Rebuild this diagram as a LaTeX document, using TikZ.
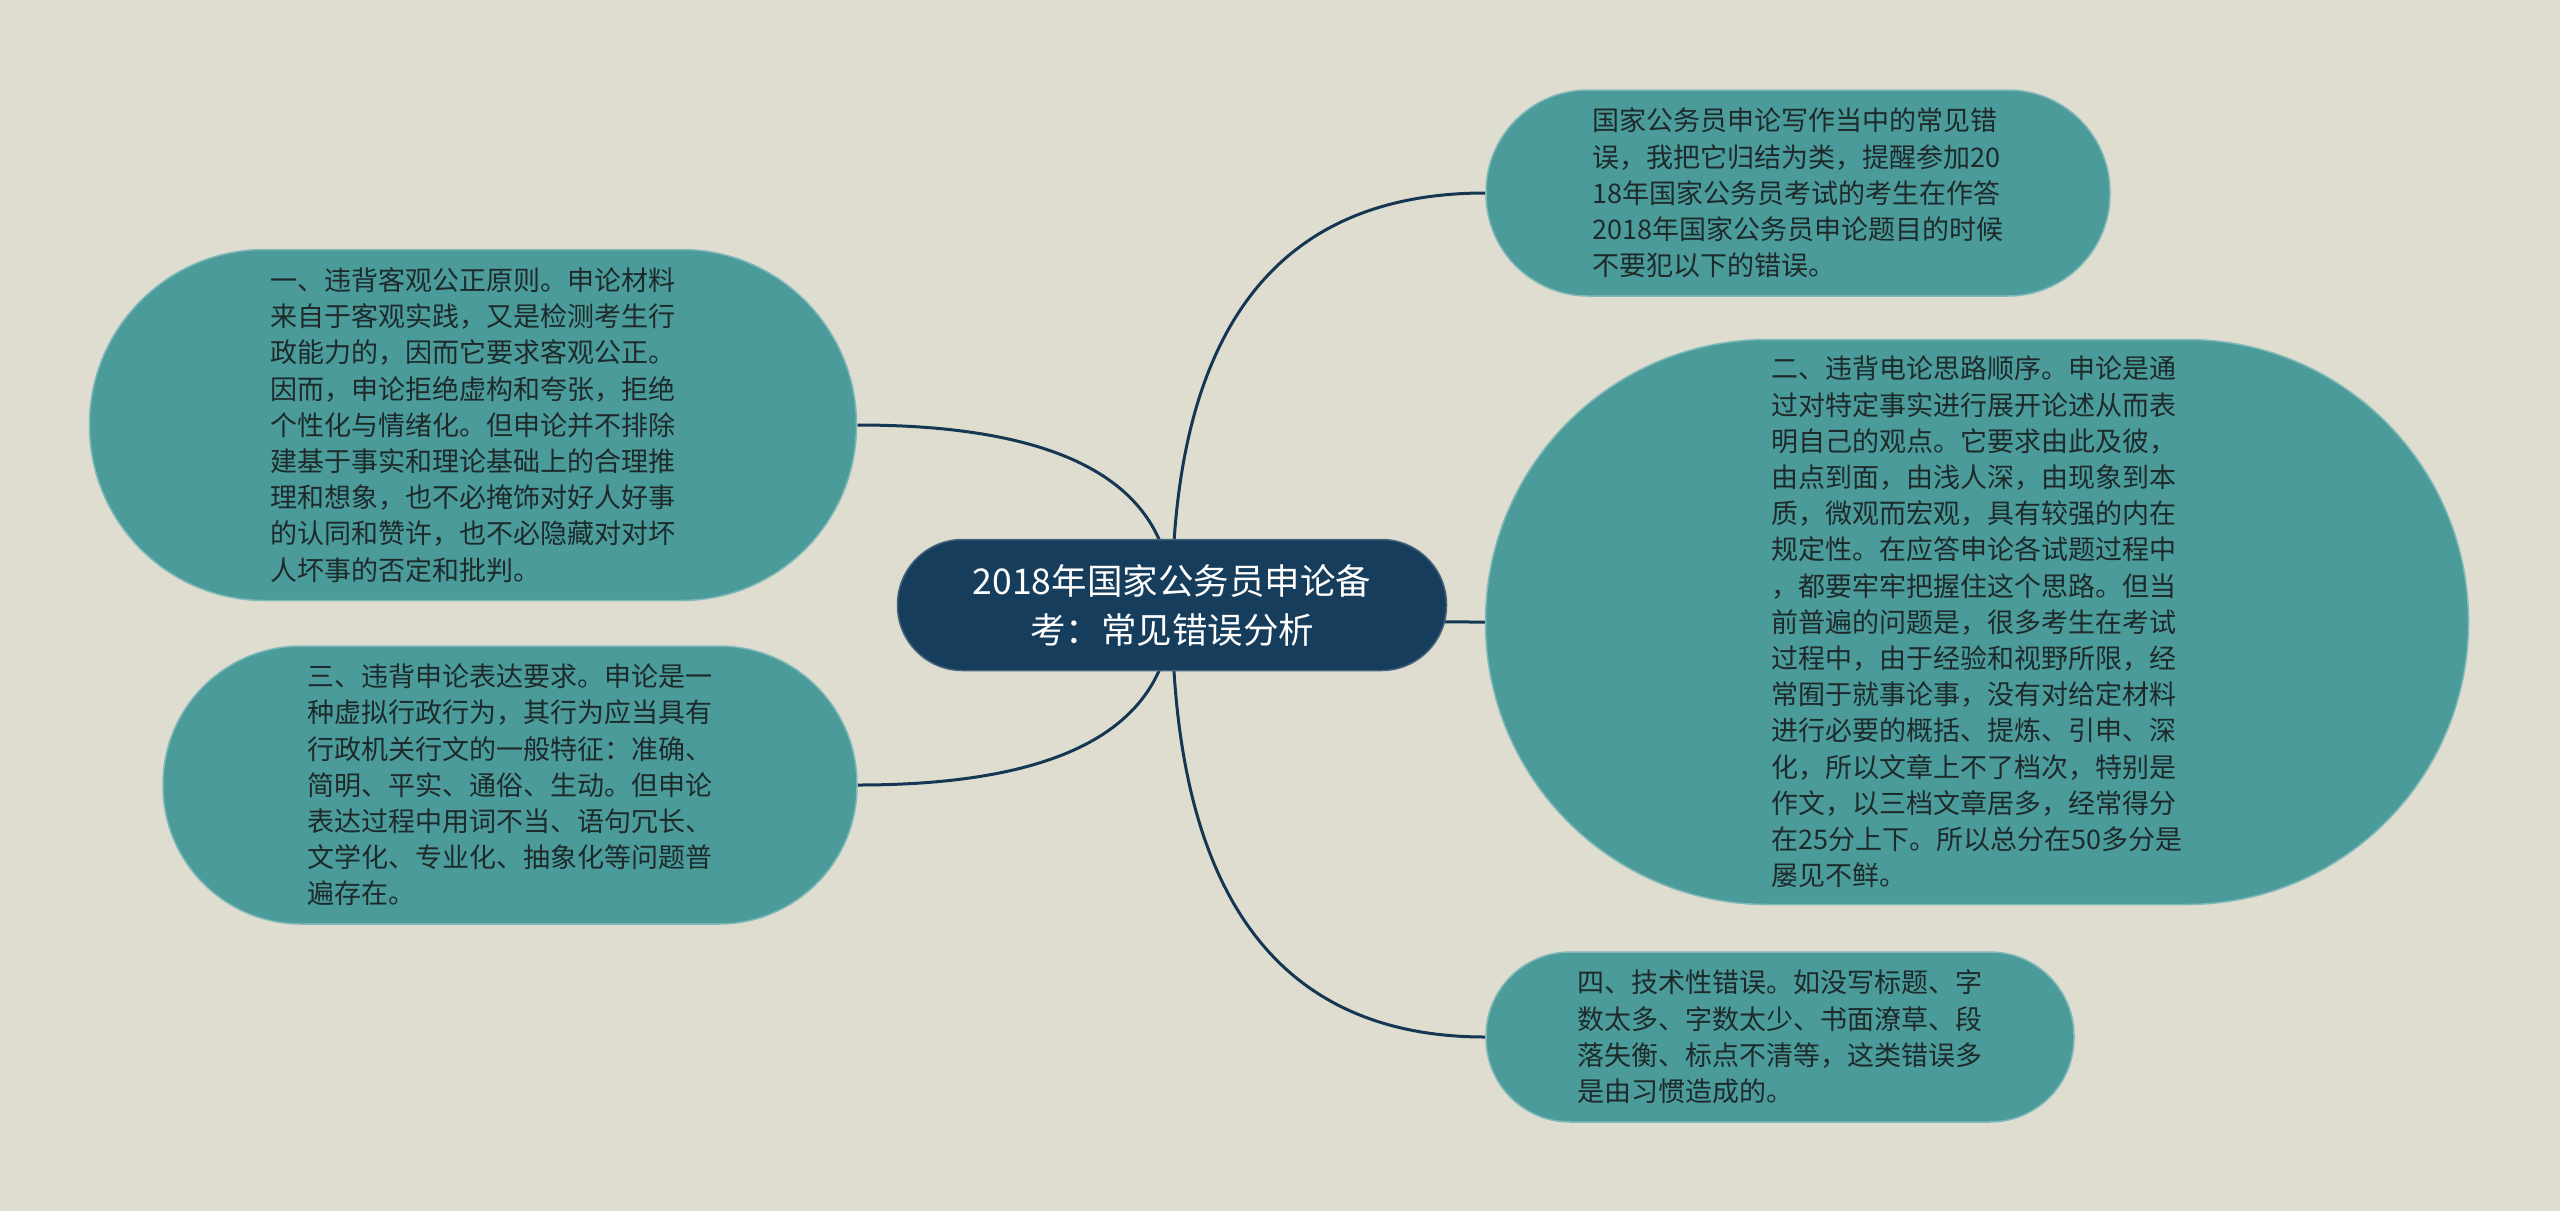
\documentclass[tikz,border=0pt]{standalone}
\usepackage{fontspec}
\usepackage{tikz}
\usetikzlibrary{calc}
\usepackage{color}
\newfontfamily\cjk{Noto Sans CJK SC}

\definecolor{paper}{RGB}{223,221,207}
\definecolor{leafteal}{RGB}{75,155,155}
\definecolor{rootblue}{RGB}{23,61,92}
\definecolor{inkdark}{RGB}{30,42,42}

\pgfdeclarelayer{bg}
\pgfsetlayers{bg,main}

\begin{document}
\begin{tikzpicture}
[x=1pt,y=-1pt,
 leaf/.style={draw=leafteal!70!white,line width=1.5pt,fill=leafteal,text=inkdark,
   align=left,inner sep=0pt,font=\cjk\fontsize{27}{36.2}\selectfont},
 root/.style={draw=rootblue!80!white,line width=1.5pt,fill=rootblue,text=white,
   align=center,inner sep=0pt,font=\cjk\fontsize{35.5}{49}\selectfont},
 link/.style={draw=rootblue!90!black,line width=3pt}]

% the background
\begin{pgfonlayer}{bg}
\fill[paper] (0,0) rectangle (2560,1211);
\end{pgfonlayer}
\useasboundingbox (0,0) rectangle (2560,1211);

% the coordinates of the nodes
\coordinate (R) at (1172,605);
\coordinate (I) at (1798,193);
\coordinate (T) at (1977,622);
\coordinate (F) at (1780,1037);
\coordinate (O) at (473,425);
\coordinate (H) at (510,785);

% the nodes
\node[root,minimum width=549,minimum height=131,rounded corners=65] (root) at (R)
  {2018年国家公务员申论备\\考：常见错误分析};

\node[leaf,minimum width=624,minimum height=206,rounded corners=102] (intro) at (I)
  {国家公务员申论写作当中的常见错\\
   误，我把它归结为类，提醒参加20\\
   18年国家公务员考试的考生在作答\\
   2018年国家公务员申论题目的时候\\
   不要犯以下的错误。};

\node[leaf,minimum width=983,minimum height=565,rounded corners=282] (two) at (T)
  {二、违背电论思路顺序。申论是通\\
   过对特定事实进行展开论述从而表\\
   明自己的观点。它要求由此及彼，\\
   由点到面，由浅人深，由现象到本\\
   质，微观而宏观，具有较强的内在\\
   规定性。在应答申论各试题过程中\\
   ，都要牢牢把握住这个思路。但当\\
   前普遍的问题是，很多考生在考试\\
   过程中，由于经验和视野所限，经\\
   常囿于就事论事，没有对给定材料\\
   进行必要的概括、提炼、引申、深\\
   化，所以文章上不了档次，特别是\\
   作文，以三档文章居多，经常得分\\
   在25分上下。所以总分在50多分是\\
   屡见不鲜。};

\node[leaf,minimum width=588,minimum height=170,rounded corners=84] (four) at (F)
  {四、技术性错误。如没写标题、字\\
   数太多、字数太少、书面潦草、段\\
   落失衡、标点不清等，这类错误多\\
   是由习惯造成的。};

\node[leaf,minimum width=767,minimum height=351,rounded corners=175] (one) at (O)
  {一、违背客观公正原则。申论材料\\
   来自于客观实践，又是检测考生行\\
   政能力的，因而它要求客观公正。\\
   因而，申论拒绝虚构和夸张，拒绝\\
   个性化与情绪化。但申论并不排除\\
   建基于事实和理论基础上的合理推\\
   理和想象，也不必掩饰对好人好事\\
   的认同和赞许，也不必隐藏对对坏\\
   人坏事的否定和批判。};

\node[leaf,minimum width=694,minimum height=278,rounded corners=138] (three) at (H)
  {三、违背申论表达要求。申论是一\\
   种虚拟行政行为，其行为应当具有\\
   行政机关行文的一般特征：准确、\\
   简明、平实、通俗、生动。但申论\\
   表达过程中用词不当、语句冗长、\\
   文学化、专业化、抽象化等问题普\\
   遍存在。};

% the corners the links bend round
\coordinate (kI) at (root.center |- intro.west);
\coordinate (kT) at (root.center |- two.west);
\coordinate (kF) at (root.center |- four.west);
\coordinate (kO) at (root.center |- one.east);
\coordinate (kH) at (root.center |- three.east);

% the links, behind the nodes
\begin{pgfonlayer}{bg}
\draw[link] (root.center) .. controls ($(root.center)!0.667!(kI)$) and ($(intro.west)!0.667!(kI)$) .. (intro.west);
\draw[link] (root.center) .. controls ($(root.center)!0.667!(kT)$) and ($(two.west)!0.667!(kT)$) .. (two.west);
\draw[link] (root.center) .. controls ($(root.center)!0.667!(kF)$) and ($(four.west)!0.667!(kF)$) .. (four.west);
\draw[link] (root.center) .. controls ($(root.center)!0.667!(kO)$) and ($(one.east)!0.667!(kO)$) .. (one.east);
\draw[link] (root.center) .. controls ($(root.center)!0.667!(kH)$) and ($(three.east)!0.667!(kH)$) .. (three.east);
\end{pgfonlayer}

%
\end{tikzpicture}
\end{document}
